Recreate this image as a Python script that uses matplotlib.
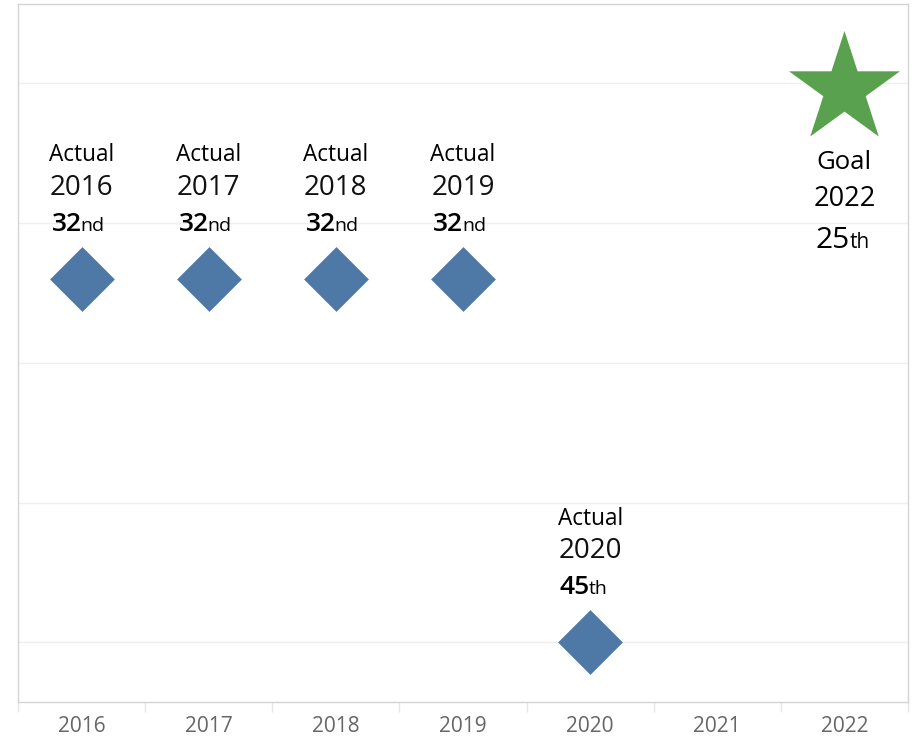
import numpy as np
import matplotlib.pyplot as plt
from matplotlib.markers import MarkerStyle
from matplotlib.transforms import Affine2D

# data
years = ['2016', '2017', '2018', '2019', '2020', '2021', '2022']
actual_years = ['2016', '2017', '2018', '2019', '2020']
actual_ranks = [32, 32, 32, 32, 45]
actual_suffix = ['nd', 'nd', 'nd', 'nd', 'th']
goal_year = '2022'
goal_rank = 25
goal_suffix = 'th'
grid_ranks = [25, 30, 35, 40, 45]

plt.rcParams['font.family'] = ['Open Sans', 'DejaVu Sans']

fig = plt.figure(figsize=(9.13, 7.40), dpi=100)
ax = fig.add_axes([18 / 913, 38 / 740, 890 / 913, 698 / 740])

xpos = {y: i for i, y in enumerate(years)}
ax_x = [xpos[y] for y in actual_years]

ax.scatter(ax_x, actual_ranks, marker='D', s=33 ** 2, color='#4E79A7',
           linewidths=0, zorder=3)
# star nudged so its bounding box (not circumcircle) sits on the value
star = MarkerStyle('*', transform=Affine2D().translate(0, -0.05))
ax.scatter([xpos[goal_year]], [goal_rank], marker=star, s=84 ** 2,
           color='#59A14F', linewidths=0, zorder=3)

# labels above actual points
for x, yr, r, suf in zip(ax_x, actual_years, actual_ranks, actual_suffix):
    ax.annotate('Actual', (x, r), xytext=(0, 89), textcoords='offset points',
                ha='center', va='center', fontsize=16.3, fontweight='medium')
    ax.annotate(yr, (x, r), xytext=(0, 65.6), textcoords='offset points',
                ha='center', va='center', fontsize=20, color='#111111')
    ax.annotate(str(r), (x, r), xytext=(0, 34.6), textcoords='offset points',
                ha='right', va='baseline', fontsize=19, fontweight='semibold')
    ax.annotate(suf, (x, r), xytext=(-0.8, 34.6), textcoords='offset points',
                ha='left', va='baseline', fontsize=14)

# labels below goal star
gx = xpos[goal_year]
ax.annotate('Goal', (gx, goal_rank), xytext=(0, -57.6), textcoords='offset points',
            ha='center', va='center', fontsize=18.5)
ax.annotate(goal_year, (gx, goal_rank), xytext=(0, -83.5), textcoords='offset points',
            ha='center', va='center', fontsize=19.5)
ax.annotate(str(goal_rank), (gx, goal_rank), xytext=(4, -119),
            textcoords='offset points', ha='right', va='baseline', fontsize=21.5,
            fontweight='medium')
ax.annotate(goal_suffix, (gx, goal_rank), xytext=(3.5, -119),
            textcoords='offset points', ha='left', va='baseline', fontsize=15)

ax.set_xlim(-0.5, 6.5)
ax.set_ylim(47.13, 22.18)

ax.set_xticks(range(len(years)))
ax.set_xticklabels(years, fontsize=15, color='#666666')
ax.set_xticks(np.arange(-0.5, 7, 1), minor=True)
ax.tick_params(axis='x', which='major', length=0, pad=10)
ax.tick_params(axis='x', which='minor', length=7, color='#e6e6e6', width=1)

ax.set_yticks(grid_ranks)
ax.tick_params(axis='y', length=0, labelleft=False)
ax.grid(axis='y', color='#efefef', linewidth=1)
ax.set_axisbelow(True)

for s in ax.spines.values():
    s.set_color('#d4d4d4')
    s.set_linewidth(1)

fig.savefig('out.png', dpi=100)
